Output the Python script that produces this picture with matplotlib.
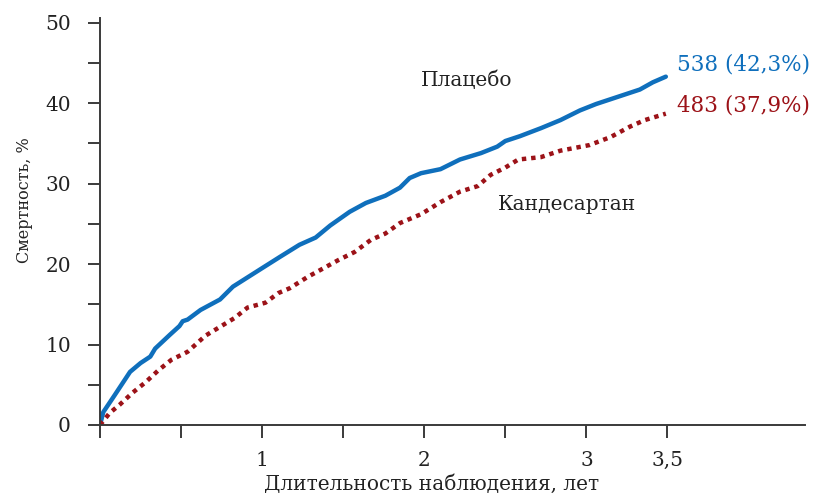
import matplotlib
matplotlib.use("Agg")
import matplotlib.pyplot as plt
from matplotlib.ticker import FixedLocator


# Cumulative mortality curves (years, %)
placebo_years = [0.0, 0.02, 0.09, 0.185, 0.25, 0.31, 0.34, 0.43, 0.49, 0.51, 0.54,
                 0.62, 0.74, 0.82, 1.0, 1.11, 1.23, 1.33, 1.42, 1.54, 1.64, 1.76,
                 1.85, 1.91, 1.98, 2.1, 2.22, 2.35, 2.45, 2.5, 2.59, 2.72, 2.84,
                 2.96, 3.06, 3.21, 3.33, 3.41, 3.49]
placebo_pct = [0.0, 1.6, 3.7, 6.6, 7.7, 8.5, 9.5, 11.2, 12.3, 12.9, 13.1,
               14.3, 15.6, 17.2, 19.5, 20.9, 22.4, 23.3, 24.8, 26.5, 27.6, 28.5,
               29.5, 30.7, 31.3, 31.8, 33.0, 33.8, 34.6, 35.3, 35.9, 36.9, 37.9,
               39.1, 39.9, 40.9, 41.7, 42.6, 43.3]

cand_years = [0.0, 0.06, 0.12, 0.2, 0.28, 0.36, 0.44, 0.54, 0.65, 0.74, 0.83,
              0.91, 1.02, 1.1, 1.17, 1.28, 1.38, 1.47, 1.57, 1.67, 1.76, 1.85,
              1.98, 2.1, 2.22, 2.33, 2.41, 2.5, 2.58, 2.72, 2.84, 3.02, 3.15,
              3.27, 3.36, 3.49]
cand_pct = [0.0, 1.5, 2.5, 4.0, 5.3, 6.8, 8.1, 9.1, 11.1, 12.2, 13.3,
            14.6, 15.2, 16.4, 17.0, 18.4, 19.5, 20.5, 21.5, 23.0, 23.8, 25.1,
            26.2, 27.7, 29.0, 29.7, 31.1, 32.0, 33.0, 33.3, 34.1, 34.8, 35.8,
            37.1, 37.9, 38.7]

x_ticks = [0, 0.5, 1, 1.5, 2, 2.5, 3, 3.5]
x_tick_labels = ["", "", "1", "", "2", "", "3", "3,5"]
y_ticks = [0, 5, 10, 15, 20, 25, 30, 35, 40, 45, 50]
y_tick_labels = ["0", "", "10", "", "20", "", "30", "", "40", "", "50"]

BLUE = "#0f6fbc"
RED = "#9c1218"
AXIS = "#3a3a3a"
TEXT = "#222222"

plt.rcParams["font.family"] = ["DejaVu Serif"]

fig = plt.figure(figsize=(8.2, 4.94), dpi=100)
ax = fig.add_axes([0.122, 0.1397, 0.860, 0.824])

ax.plot(placebo_years, placebo_pct, color=BLUE, linewidth=3.2,
        solid_joinstyle="round", solid_capstyle="round")
ax.plot(cand_years, cand_pct, color=RED, linewidth=3.2,
        linestyle=(0, (1.0, 1.1)), dash_capstyle="butt")

ax.set_xlim(0, 4.35)
ax.set_ylim(0, 50.6)

for side in ("top", "right"):
    ax.spines[side].set_visible(False)
for side in ("left", "bottom"):
    ax.spines[side].set_color(AXIS)
    ax.spines[side].set_linewidth(1.4)

ax.xaxis.set_major_locator(FixedLocator(x_ticks))
ax.set_xticklabels(x_tick_labels)
ax.yaxis.set_major_locator(FixedLocator(y_ticks))
ax.set_yticklabels(y_tick_labels)
ax.tick_params(axis="both", direction="out", length=9, width=1.4,
               color=AXIS, labelsize=14.5, labelcolor=TEXT)
ax.tick_params(axis="y", pad=12)
ax.tick_params(axis="x", pad=10)

ax.set_xlabel("Длительность наблюдения, лет", fontsize=14.5, color=TEXT)
ax.xaxis.set_label_coords(0.47, -0.12)
ax.set_ylabel("Смертность, %", fontsize=11.5, color=TEXT)
ax.yaxis.set_label_coords(-0.095, 0.553)

ax.text(2.26, 42.9, "Плацебо", fontsize=14.5, color=TEXT, ha="center", va="center")
ax.text(2.88, 27.4, "Кандесартан", fontsize=14.5, color=TEXT, ha="center", va="center")

ax.text(3.56, 44.8, "538 (42,3%)", fontsize=15.5, color=BLUE, ha="left", va="center")
ax.text(3.56, 39.7, "483 (37,9%)", fontsize=15.5, color=RED, ha="left", va="center")

fig.savefig("out.png", dpi=100)
